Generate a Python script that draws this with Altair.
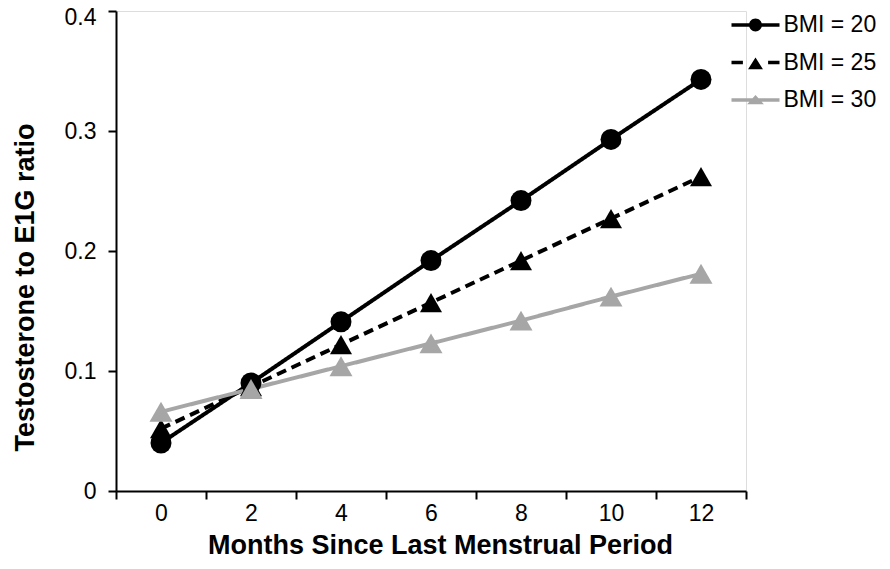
import altair as alt
import pandas as pd

months = ["0", "2", "4", "6", "8", "10", "12"]
series = ["BMI = 20", "BMI = 25", "BMI = 30"]
bmi20 = [0.040, 0.090, 0.141, 0.192, 0.242, 0.293, 0.343]
bmi25 = [0.052, 0.087, 0.122, 0.157, 0.192, 0.227, 0.262]
bmi30 = [0.066, 0.085, 0.104, 0.123, 0.142, 0.162, 0.181]
y_ticks = [0, 0.1, 0.2, 0.3, 0.4]

colors = ["#000000", "#000000", "#a6a6a6"]
dashes = [[1, 0], [10, 6], [1, 0]]
shapes = ["circle", "triangle-up", "triangle-up"]
sizes = [440, 529, 180]
# legend glyphs: filled line segment(s) plus marker, all clockwise
legend_paths = [
    "M-2,-0.15H2V0.15H-2Z"
    "M-0.54,0A0.54,0.54,0,1,1,0.54,0A0.54,0.54,0,1,1,-0.54,0Z",
    "M-2,-0.14H-1.05V0.14H-2Z"
    "M1.05,-0.14H2V0.14H1.05Z"
    "M0,-0.42L0.62,0.56L-0.62,0.56Z",
    "M-2,-0.15H2V0.15H-2Z"
    "M0,-0.42L0.7,0.36L-0.7,0.36Z",
]
legend_rows_y = [2, 39.5, 77]

rows = []
for s, vals in zip(series, [bmi20, bmi25, bmi30]):
    for m, v in zip(months, vals):
        rows.append({"month": m, "ratio": v, "series": s})
df = pd.DataFrame(rows)

FONT = "Liberation Sans"

x_enc = alt.X(
    "month:N",
    sort=months,
    scale=alt.Scale(type="band", paddingInner=0, paddingOuter=0),
    axis=alt.Axis(
        title="Months Since Last Menstrual Period",
        tickBand="extent",
        labelAngle=0,
        labelFont=FONT,
        labelFontSize=23,
        labelColor="black",
        labelPadding=3,
        tickSize=8,
        tickWidth=2,
        tickColor="black",
        domainColor="black",
        domainWidth=2,
        titleFont=FONT,
        titleFontSize=27,
        titleFontWeight="bold",
        titleColor="black",
        titleX=324,
        titleY=62,
        titleBaseline="alphabetic",
        grid=False,
    ),
)
y_enc = alt.Y(
    "ratio:Q",
    scale=alt.Scale(domain=[0, 0.4], nice=False),
    axis=alt.Axis(
        title="Testosterone to E1G ratio",
        values=y_ticks,
        format="~g",
        labelFont=FONT,
        labelFontSize=23,
        labelColor="black",
        labelPadding=12,
        labelOffset={"condition": {"test": "datum.value >= 0.39", "value": 6}, "value": 0},
        tickSize=8,
        tickWidth=2,
        tickColor="black",
        domainColor="black",
        domainWidth=2,
        titleFont=FONT,
        titleFontSize=27,
        titleFontWeight="bold",
        titleColor="black",
        titleX=-83,
        titleY=276,
        titleAngle=270,
        titleAlign="center",
        titleBaseline="alphabetic",
        grid=False,
    ),
)

base = alt.Chart(df)

lines = base.mark_line(strokeWidth=4).encode(
    x=x_enc,
    y=y_enc,
    color=alt.Color("series:N", scale=alt.Scale(domain=series, range=colors), legend=None),
    strokeDash=alt.StrokeDash("series:N", scale=alt.Scale(domain=series, range=dashes), legend=None),
)

points = base.mark_point(filled=True, opacity=1).encode(
    x=x_enc,
    y=y_enc,
    color=alt.Color("series:N", scale=alt.Scale(domain=series, range=colors), legend=None),
    shape=alt.Shape("series:N", scale=alt.Scale(domain=series, range=shapes), legend=None),
    size=alt.Size("series:N", scale=alt.Scale(domain=series, range=sizes), legend=None),
)

# one invisible layer per series, each providing its own legend entry
legend_layers = []
for s, c, p, ly in zip(series, colors, legend_paths, legend_rows_y):
    lg = alt.Legend(
        title=None,
        orient="none",
        legendX=627.5,
        legendY=ly,
        padding=0,
        symbolSize=576,
        symbolStrokeWidth=0,
        symbolOpacity=1,
        symbolFillColor=c,
        labelFont=FONT,
        labelFontSize=23,
        labelColor="black",
        labelOffset=16,
    )
    legend_layers.append(
        base.transform_filter(alt.datum.series == s)
        .mark_point(opacity=0, filled=True, color=c)
        .encode(
            x=x_enc,
            y=y_enc,
            shape=alt.Shape("series:N", scale=alt.Scale(domain=[s], range=[p]), legend=lg),
        )
    )

chart = (
    alt.layer(lines, points, *legend_layers)
    .resolve_scale(shape="independent", size="independent")
    .resolve_legend(shape="independent")
    .properties(
        width=630,
        height=480,
        autosize=alt.AutoSizeParams(type="none"),
        padding={"left": 108, "top": 3, "right": 136, "bottom": 70},
    )
    .configure_view(stroke=None)
    .configure(background="white")
)

chart.save("out.html", embed_options={"renderer": "svg", "actions": False})
